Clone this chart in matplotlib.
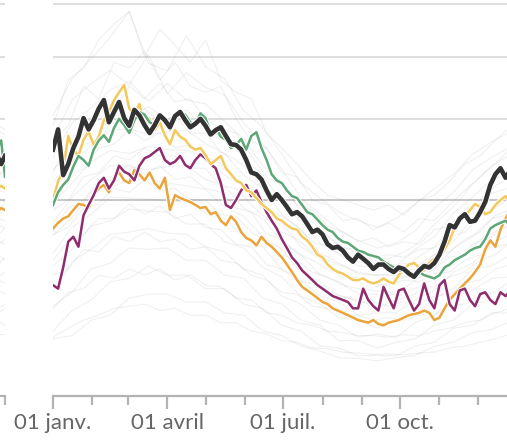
import numpy as np
import matplotlib
matplotlib.use("Agg")
import matplotlib.pyplot as plt
import matplotlib.patheffects as pe

# days of the year (0 = 1 Jan)
days = list(range(0, 361, 4))
gray_days_a = list(range(0, 361, 15)) + [365]
gray_days_b = list(range(0, 361, 12)) + [365]

black = [158, 185, 127, 140, 160, 175, 201, 185, 198, 215,
         228, 195, 210, 225, 201, 190, 213, 205, 191, 180,
         191, 205, 198, 188, 204, 210, 198, 188, 193, 200,
         190, 178, 184, 188, 176, 165, 164, 158, 145, 130,
         128, 122, 110, 100, 106, 100, 93, 86, 88, 84,
         77, 70, 72, 68, 60, 57, 58, 55, 50, 47,
         52, 49, 46, 42, 45, 45, 42, 40, 43, 42,
         39, 37, 41, 44, 43, 46, 52, 62, 76, 74,
         82, 86, 79, 80, 88, 98, 116, 128, 135, 124, 133]
green = [95, 108, 116, 122, 137, 150, 145, 138, 158, 170,
         177, 168, 187, 200, 191, 180, 198, 210, 206, 195,
         191, 205, 195, 185, 198, 210, 206, 195, 191, 208,
         201, 180, 187, 175, 171, 160, 164, 172, 158, 176,
         181, 160, 145, 128, 121, 118, 110, 104, 102, 95,
         88, 86, 81, 76, 72, 70, 65, 62, 61, 58,
         55, 54, 52, 51, 50, 47, 45, 43, 41, 41,
         40, 38, 40, 38, 37, 36, 38, 43, 45, 48,
         50, 52, 55, 57, 58, 64, 73, 76, 78, 80, 75]
yellow = [100, 120, 133, 176, 158, 150, 171, 182, 164, 175,
          198, 210, 228, 240, 252, 215, 206, 222, 191, 200,
          184, 195, 177, 165, 184, 175, 171, 162, 158, 160,
          151, 140, 145, 150, 135, 128, 121, 118, 110, 108,
          102, 96, 92, 88, 82, 80, 76, 73, 72, 66,
          63, 58, 52, 50, 45, 42, 40, 39, 37, 35,
          35, 36, 34, 33, 34, 36, 34, 33, 38, 42,
          45, 46, 43, 41, 46, 49, 50, 56, 63, 74,
          81, 84, 90, 96, 93, 86, 88, 95, 100, 104, 97]
orange = [73, 78, 82, 84, 90, 96, 95, 92, 105, 112,
          116, 108, 124, 130, 121, 118, 133, 128, 121, 130,
          118, 112, 124, 90, 105, 102, 100, 98, 95, 92,
          93, 86, 88, 80, 76, 84, 79, 70, 65, 63,
          59, 66, 61, 58, 54, 50, 45, 40, 35, 31,
          29, 27, 25, 23, 22, 20, 19, 18, 17, 16,
          15, 14.5, 14, 15, 13.5, 13, 14, 14.5, 15, 16,
          17, 17.5, 18, 19, 18, 15, 16, 20, 24, 27,
          30, 33, 36, 40, 45, 56, 63, 58, 72, 82, 90]
purple = [32, 30, 43, 62, 66, 58, 85, 95, 105, 118,
          124, 112, 121, 138, 131, 128, 121, 138, 147, 150,
          155, 160, 145, 140, 143, 150, 139, 135, 145, 152,
          147, 140, 135, 118, 95, 92, 100, 110, 116, 104,
          110, 98, 88, 80, 73, 64, 57, 50, 46, 41,
          38, 35, 32, 30, 28, 26, 25, 24, 23, 20,
          20, 30, 24, 21, 19, 31, 25, 20, 29, 30,
          24, 19, 22, 33, 24, 20, 32, 35, 22, 19,
          29, 30, 24, 21, 27, 28, 24, 22, 28, 26, 29]

# end of the previous panel (last days of December)
prev_days = [344, 350, 356, 362, 365]
prev_black = [150, 128, 160, 140, 150]
prev_green = [120, 135, 150, 170, 125]
prev_yellow = [105, 118, 110, 115, 112]
prev_orange = [88, 95, 85, 92, 90]

gray_a = [
    [205, 262, 296, 335, 385, 288, 275, 338, 282, 262, 212, 188, 152, 118, 102, 88, 80, 74, 82, 96, 112, 128, 152, 168, 182, 178],
    [172, 228, 254, 276, 252, 304, 238, 272, 248, 236, 194, 166, 134, 102, 86, 72, 63, 57, 61, 71, 92, 108, 133, 148, 162, 158],
    [148, 194, 216, 244, 258, 226, 254, 228, 222, 196, 172, 138, 118, 88, 73, 59, 53, 47, 51, 59, 77, 93, 117, 138, 152, 147],
    [133, 158, 193, 206, 204, 218, 198, 213, 186, 172, 148, 127, 98, 82, 61, 53, 44, 43, 44, 56, 66, 87, 103, 122, 128, 133],
    [108, 143, 162, 184, 186, 178, 182, 184, 166, 153, 127, 112, 86, 72, 53, 46, 39, 38, 39, 49, 58, 77, 90, 107, 113, 117],
    [97, 118, 143, 157, 153, 162, 158, 157, 148, 127, 114, 93, 78, 58, 49, 39, 36, 31, 35, 39, 52, 62, 82, 90, 102, 98],
    [78, 103, 122, 138, 137, 133, 137, 138, 122, 115, 92, 82, 62, 52, 38, 34, 27, 27, 27, 35, 42, 57, 66, 82, 86, 90],
    [67, 83, 108, 112, 123, 122, 118, 115, 111, 93, 84, 66, 56, 40, 34, 26, 24, 20, 24, 27, 37, 45, 60, 66, 77, 73],
    [53, 74, 86, 103, 102, 101, 99, 98, 87, 82, 66, 58, 42, 35, 26, 23, 17, 18, 18, 24, 29, 40, 46, 58, 60, 64],
    [44, 56, 75, 80, 91, 89, 88, 77, 77, 62, 57, 43, 37, 26, 22, 16, 15, 12, 15, 17, 25, 30, 42, 44, 52, 48],
    [28, 47, 56, 68, 70, 73, 69, 68, 58, 54, 42, 38, 26, 22, 15, 13, 9, 10, 9, 14, 17, 25, 29, 36, 37, 40],
    [21, 28, 42, 46, 57, 56, 57, 48, 48, 38, 36, 25, 22, 15, 13, 8, 8, 6, 7.5, 8.5, 13, 15, 22, 24, 29, 27],
    [11, 19, 24, 34, 36, 44, 38, 38, 30, 30, 22, 20, 13, 11, 6.5, 6, 4.2, 4.3, 4.2, 6.5, 7.5, 12, 13, 18, 18, 20],
    [8.5, 9.5, 15, 17, 25, 27, 27, 23, 23, 18, 17, 11, 9.5, 6.5, 5.3, 3.8, 3.7, 3.2, 3.8, 4.3, 6.4, 7.6, 10.5, 11.5, 14.5, 13],
]
gray_b = [
    [190, 260, 280, 330, 360, 385, 300, 350, 320, 290, 330, 260, 240, 230, 180, 160, 140, 120, 105, 100, 95, 90, 95, 85, 100, 105, 120, 140, 150, 170, 190, 185],
    [170, 190, 250, 230, 290, 280, 310, 260, 290, 250, 240, 250, 200, 170, 160, 130, 125, 100, 95, 80, 82, 72, 78, 70, 82, 80, 95, 110, 125, 140, 160, 150],
    [130, 170, 185, 215, 210, 250, 230, 255, 225, 230, 200, 185, 180, 150, 125, 115, 95, 90, 75, 70, 62, 65, 58, 62, 60, 72, 75, 90, 100, 115, 125, 135],
    [120, 135, 165, 170, 200, 190, 215, 195, 205, 180, 180, 155, 145, 130, 105, 98, 82, 72, 66, 57, 56, 50, 52, 50, 56, 57, 66, 70, 85, 92, 110, 108],
    [95, 125, 135, 160, 165, 185, 170, 180, 160, 165, 150, 140, 120, 115, 92, 84, 75, 62, 58, 50, 47, 46, 42, 46, 45, 52, 54, 64, 70, 85, 90, 98],
    [90, 100, 125, 130, 150, 145, 160, 150, 150, 135, 135, 115, 112, 95, 82, 70, 64, 54, 48, 44, 40, 38, 38, 37, 42, 42, 50, 52, 64, 70, 82, 80],
    [72, 92, 100, 120, 122, 140, 128, 138, 122, 125, 112, 108, 92, 88, 68, 64, 53, 48, 42, 37, 36, 33, 32, 35, 34, 39, 40, 48, 52, 62, 68, 74],
    [68, 74, 92, 96, 112, 108, 122, 110, 112, 100, 100, 86, 84, 70, 62, 52, 48, 40, 37, 32, 30, 29, 28, 28, 31, 31, 37, 40, 48, 52, 62, 60],
    [48, 62, 68, 82, 82, 96, 86, 94, 82, 86, 74, 72, 60, 58, 45, 42, 35, 33, 27, 26, 23, 23, 21, 23, 22, 26, 27, 33, 35, 42, 45, 50],
    [38, 42, 56, 54, 66, 62, 70, 62, 64, 56, 58, 48, 46, 38, 35, 28, 27, 21, 20, 17, 17, 15, 16, 15, 17, 17, 21, 22, 27, 28, 35, 33],
    [20, 28, 30, 38, 36, 42, 38, 42, 35, 38, 32, 31, 25, 24, 18, 17, 14, 13, 11, 10.5, 9.5, 9.5, 9, 9.8, 9.4, 11, 12, 14, 15, 18, 20, 22],
    [9, 12, 15, 17, 20, 21, 22, 19, 20, 17, 17, 14, 14, 11, 10, 8, 7.5, 6, 5.8, 5, 4.8, 4.5, 4.6, 4.4, 4.8, 5, 6, 6.5, 7.5, 8.5, 10, 10],
]

month_starts = [0, 31, 59, 90, 120, 151, 181, 212, 243, 273, 304, 334, 365]
major_ticks = [0, 90, 181, 273]
major_labels = ["01 janv.", "01 avril", "01 juil.", "01 oct."]
grid_values = [100, 200, 300, 400]

W, H = 507, 441
fig = plt.figure(figsize=(W / 100, H / 100), dpi=100)
plt.rcParams["font.family"] = ["Lato", "DejaVu Sans"]


def setup(ax):
    ax.set_yscale("function", functions=(lambda v: np.sqrt(np.clip(v, 0, None)), lambda v: v ** 2))
    ax.set_xlim(0, 365)
    ax.set_ylim(0, 408.2)
    ax.set_facecolor("none")
    for s in ["top", "right", "left"]:
        ax.spines[s].set_visible(False)
    ax.spines["bottom"].set_color("#b3b3b3")
    ax.spines["bottom"].set_linewidth(1.6)
    ax.set_yticks([])
    ax.set_xticks(major_ticks)
    ax.set_xticks(month_starts, minor=True)
    ax.tick_params(axis="x", which="major", length=9.5, width=1.6, color="#b3b3b3",
                   labelsize=16, labelcolor="#666666", pad=3)
    ax.tick_params(axis="x", which="minor", length=6.5, width=1.6, color="#b3b3b3")
    for g in grid_values:
        ax.axhline(g, color="#c6c6c6" if g == 100 else "#dedede", lw=1.4, zorder=0.5 if g == 100 else 0)
    for ser in gray_a:
        ax.plot(gray_days_a, ser, color="#8c8c8c", alpha=0.13, lw=0.8, zorder=1)
    for ser in gray_b:
        ax.plot(gray_days_b, ser, color="#8c8c8c", alpha=0.13, lw=0.8, zorder=1)


def colored(ax, x, y, color, lw):
    ax.plot(x, y, color=color, lw=lw, solid_joinstyle="round", zorder=3,
            path_effects=[pe.Stroke(linewidth=lw + 1.4, foreground="white"), pe.Normal()])


bottom = (H - 396) / H
height = 396 / H
ax = fig.add_axes([53 / W, bottom, 464 / W, height])
setup(ax)
ax.set_xticklabels(major_labels)
colored(ax, days, orange, "#eaa43b", 1.8)
colored(ax, days, purple, "#8e2c6e", 1.8)
colored(ax, days, yellow, "#f3c95d", 1.8)
colored(ax, days, green, "#5ea777", 1.8)
colored(ax, days, black, "#333333", 3.3)

ax0 = fig.add_axes([(5 - 464) / W, bottom, 464 / W, height])
setup(ax0)
ax0.set_xticklabels(["", "", "", ""])
colored(ax0, prev_days, prev_orange, "#eaa43b", 1.8)
colored(ax0, prev_days, prev_yellow, "#f3c95d", 1.8)
colored(ax0, prev_days, prev_green, "#5ea777", 1.8)
colored(ax0, prev_days, prev_black, "#333333", 3.3)

fig.savefig("out.png", dpi=100)
